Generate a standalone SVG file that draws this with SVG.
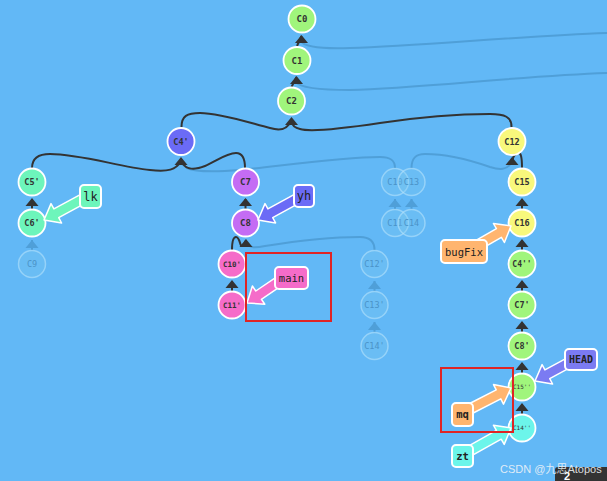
<svg xmlns="http://www.w3.org/2000/svg" xmlns:xlink="http://www.w3.org/1999/xlink" width="607" height="481" viewBox="0 0 607 481">
<defs>
<style>
.bg{fill:#62b8f6}
.ln{fill:none;stroke:#333;stroke-width:2}
.gl{fill:none;stroke:#4f9fd8;stroke-width:2}
.ah{fill:#333}
.gah{fill:#4f9fd8}
.nd{stroke:#fff;stroke-width:1.8}
.gn{fill:#7fcaf0;fill-opacity:0.3;stroke:#b5e2fb;stroke-opacity:0.6;stroke-width:1.5}
.nt{font-family:"DejaVu Sans Mono",monospace;font-weight:bold;font-size:8.5px;fill:#333;text-anchor:middle}
.gt{font-family:"DejaVu Sans Mono",monospace;font-size:8.5px;fill:#4a93c8;text-anchor:middle}
.g{fill:#a0f57c}.y{fill:#f8f87c}.p{fill:#c46cf4}.k{fill:#f56cc9}.m{fill:#6df5bb}.c{fill:#6cf5ea}.b{fill:#6b6bf6}.o{fill:#ffb56f}.h{fill:#7b7bf2}
.lb{stroke:#fff;stroke-width:2}
.la{stroke:#fff;stroke-width:1.5;stroke-linejoin:round}
.lt{font-family:"DejaVu Sans Mono",monospace;font-size:10.5px;fill:#222;text-anchor:middle}
.rb{fill:none;stroke:#e02424;stroke-width:2}
</style>
<path id="ahd" d="M0,0 L-6.5,8 L6.5,8 Z"/>
</defs>
<rect class="bg" x="0" y="0" width="607" height="481"/>

<g id="connectors">
  <!-- ghost connectors -->
  <path class="gl" d="M301,41 C304,47 320,49 350,48 C420,46 520,36 607,33"/>
  <path class="gl" d="M296,82 C300,88 320,90 350,90 C420,88 520,76 607,73"/>
  <path class="gl" d="M395,168 C395,160 390,157 380,157 C340,157 280,166 240,170 C215,172 195,172 187,168 C184,166 183,165 182,163"/>
  <path class="gl" d="M411.5,168 C411.5,159 415,154 425,154 C445,154 470,160 490,167 C500,170 507,170 511,163"/>
  <path class="gl" d="M374.5,250 C374.5,241 370,237 360,237 C330,237 290,242 265,246 C255,248 250,248 247,244"/>
  <path class="gl" d="M32,250 L32,240"/>
  <path class="gl" d="M395,209 L395,199"/>
  <path class="gl" d="M411.5,209 L411.5,199"/>
  <path class="gl" d="M374.5,291 L374.5,281"/>
  <path class="gl" d="M374.5,332 L374.5,322"/>
  <use href="#ahd" class="gah" x="32" y="240"/>
  <use href="#ahd" class="gah" x="395" y="199"/>
  <use href="#ahd" class="gah" x="411.5" y="199"/>
  <use href="#ahd" class="gah" x="374.5" y="281"/>
  <use href="#ahd" class="gah" x="374.5" y="322"/>

  <!-- solid connectors -->
  <path class="ln" d="M297,46 L301.5,36"/>
  <path class="ln" d="M291.5,87 L296.5,77"/>
  <path class="ln" d="M181.5,127 C181.5,116 187,113 200,113 C220,113 250,123 270,128 C280,131 287,130 291,121"/>
  <path class="ln" d="M511.5,127 C511.5,117 505,114 490,114 C460,114 420,117 380,123 C340,129 310,132 300,129 C295,128 292,125 291,121"/>
  <path class="ln" d="M32,168 C32,159 37,154 50,154 C80,154 120,167 150,170 C168,172 176,170 181,161"/>
  <path class="ln" d="M245,168 C245,158 242,153 236,153 C226,153 215,162 205,166 C195,170 186,171 181,161"/>
  <path class="ln" d="M232,250 C232,241 233,237 236,237 C240,237 240,247 242,246 C244,245 245,243 246,240"/>
  <path class="ln" d="M522,168 C522,158 521,152 518,153 C515,154 513,157 512.5,160"/>
  <path class="ln" d="M32,209 L32,199"/>
  <path class="ln" d="M245.5,209 L245.5,199"/>
  <path class="ln" d="M232,291 L232,281"/>
  <path class="ln" d="M522,209 L522,199"/>
  <path class="ln" d="M522,250 L522,240"/>
  <path class="ln" d="M522,291 L522,281"/>
  <path class="ln" d="M522,332 L522,322"/>
  <path class="ln" d="M522,373 L522,363"/>
  <path class="ln" d="M522,414 L522,404"/>
  <use href="#ahd" class="ah" x="301.5" y="35"/>
  <use href="#ahd" class="ah" x="296.5" y="76"/>
  <use href="#ahd" class="ah" x="291.5" y="117"/>
  <use href="#ahd" class="ah" x="181" y="157"/>
  <use href="#ahd" class="ah" x="512" y="157"/>
  <use href="#ahd" class="ah" x="32" y="198"/>
  <use href="#ahd" class="ah" x="245.5" y="198"/>
  <use href="#ahd" class="ah" x="246" y="239"/>
  <use href="#ahd" class="ah" x="232" y="280"/>
  <use href="#ahd" class="ah" x="522" y="198"/>
  <use href="#ahd" class="ah" x="522" y="239"/>
  <use href="#ahd" class="ah" x="522" y="280"/>
  <use href="#ahd" class="ah" x="522" y="321"/>
  <use href="#ahd" class="ah" x="522" y="362"/>
  <use href="#ahd" class="ah" x="522" y="403"/>
</g>

<!-- ghost nodes -->
<g id="C9"><circle class="gn" cx="32" cy="264" r="13.5"/><text class="gt" x="32" y="267">C9</text></g>
<g id="C10"><circle class="gn" cx="395" cy="182" r="13.5"/><text class="gt" x="395" y="185">C10</text></g>
<g id="C13"><circle class="gn" cx="411.5" cy="182" r="13.5"/><text class="gt" x="411.5" y="185">C13</text></g>
<g id="C11"><circle class="gn" cx="395" cy="223" r="13.5"/><text class="gt" x="395" y="226">C11</text></g>
<g id="C14"><circle class="gn" cx="411.5" cy="223" r="13.5"/><text class="gt" x="411.5" y="226">C14</text></g>
<g id="C12p"><circle class="gn" cx="374.5" cy="264" r="13.5"/><text class="gt" x="374.5" y="267">C12'</text></g>
<g id="C13p"><circle class="gn" cx="374.5" cy="305" r="13.5"/><text class="gt" x="374.5" y="308">C13'</text></g>
<g id="C14p"><circle class="gn" cx="374.5" cy="346" r="13.5"/><text class="gt" x="374.5" y="349">C14'</text></g>

<!-- nodes -->
<g id="C0"><circle class="nd g" cx="302" cy="19" r="13.5"/><text class="nt" x="302" y="22" style="font-size:9px">C0</text></g>
<g id="C1"><circle class="nd g" cx="297" cy="60.5" r="13.5"/><text class="nt" x="297" y="63.5" style="font-size:9px">C1</text></g>
<g id="C2"><circle class="nd g" cx="291.5" cy="101" r="13.5"/><text class="nt" x="291.5" y="104" style="font-size:9px">C2</text></g>
<g id="C4p"><circle class="nd b" cx="181" cy="141.5" r="13.5"/><text class="nt" x="181" y="144.5">C4'</text></g>
<g id="C12"><circle class="nd y" cx="512" cy="141.5" r="13.5"/><text class="nt" x="512" y="144.5">C12</text></g>
<g id="C5p"><circle class="nd m" cx="32" cy="182" r="13.5"/><text class="nt" x="32" y="185">C5'</text></g>
<g id="C6p"><circle class="nd m" cx="32" cy="223" r="13.5"/><text class="nt" x="32" y="226">C6'</text></g>
<g id="C7"><circle class="nd p" cx="245.5" cy="182" r="13.5"/><text class="nt" x="245.5" y="185" style="font-size:9px">C7</text></g>
<g id="C8"><circle class="nd p" cx="245.5" cy="223" r="13.5"/><text class="nt" x="245.5" y="226" style="font-size:9px">C8</text></g>
<g id="C10p"><circle class="nd k" cx="232" cy="264" r="13.5"/><text class="nt" x="232" y="266.5" style="font-size:7.5px">C10'</text></g>
<g id="C11p"><circle class="nd k" cx="232" cy="305" r="13.5"/><text class="nt" x="232" y="307.5" style="font-size:7.5px">C11'</text></g>
<g id="C15"><circle class="nd y" cx="522" cy="182" r="13.5"/><text class="nt" x="522" y="185">C15</text></g>
<g id="C16"><circle class="nd y" cx="522" cy="223" r="13.5"/><text class="nt" x="522" y="226">C16</text></g>
<g id="C4pp"><circle class="nd g" cx="522" cy="264" r="13.5"/><text class="nt" x="522" y="267" style="font-size:8px">C4''</text></g>
<g id="C7p"><circle class="nd g" cx="522" cy="305" r="13.5"/><text class="nt" x="522" y="308">C7'</text></g>
<g id="C8p"><circle class="nd g" cx="522" cy="346" r="13.5"/><text class="nt" x="522" y="349">C8'</text></g>
<g id="C15pp"><circle class="nd g" cx="522" cy="387" r="13.5"/><text class="nt" x="522" y="389" style="font-size:6px;font-weight:normal">C15''</text></g>
<g id="C14pp"><circle class="nd c" cx="522" cy="428" r="13.5"/><text class="nt" x="522" y="430" style="font-size:6px;font-weight:normal">C14''</text></g>

<!-- branch labels -->
<g id="lk">
  <polygon class="la m" points="92.4,199.4 58.7,217.7 61.6,223 44,220 51,203.6 53.9,208.9 87.6,190.6"/>
  <rect class="lb m" x="80" y="185" width="21" height="23" rx="4"/>
  <text class="lt" x="90.5" y="200.5" style="font-size:12px">lk</text>
</g>
<g id="yh">
  <polygon class="la b" points="302.4,201.4 272.7,217.7 275.6,222.9 258,220 265,203.6 267.9,208.9 297.6,192.6"/>
  <rect class="lb b" x="294" y="185" width="20" height="22" rx="4"/>
  <text class="lt" x="304" y="200" style="font-size:12px">yh</text>
</g>
<g id="main">
  <polygon class="la k" points="280.8,286.1 261.4,299.3 264.8,304.2 247,303 252.4,286 255.8,291 275.2,277.9"/>
  <rect class="lb k" x="275" y="267" width="33" height="22" rx="4"/>
  <text class="lt" x="291.5" y="282">main</text>
</g>
<g id="bugFix">
  <polygon class="la o" points="480.5,249.3 501.4,237.3 504.4,242.5 511,226 493.4,223.5 496.4,228.7 475.5,240.7"/>
  <rect class="lb o" x="441" y="240" width="46" height="23" rx="4"/>
  <text class="lt" x="464" y="255.5">bugFix</text>
</g>
<g id="HEAD">
  <polygon class="la h" points="572.4,366.4 549.7,378.7 552.6,384 535,381 542.1,364.6 544.9,369.9 567.6,357.6"/>
  <rect class="lb h" x="565" y="349" width="32" height="21" rx="4"/>
  <text class="lt" x="581" y="363" style="font-weight:bold;font-size:10px">HEAD</text>
</g>
<g id="mq">
  <polygon class="la o" points="470.3,414.5 500.8,398.8 503.5,404.2 511,388 493.5,384.6 496.2,389.9 465.7,405.5"/>
  <rect class="lb o" x="452" y="403" width="21" height="23" rx="4"/>
  <text class="lt" x="462.5" y="418" style="font-weight:bold">mq</text>
</g>
<g id="zt">
  <polygon class="la c" points="470.4,456.4 501.2,439.2 504.2,444.4 511,428 493.4,425.2 496.4,430.4 465.6,447.6"/>
  <rect class="lb c" x="452" y="445" width="21" height="22" rx="4"/>
  <text class="lt" x="462.5" y="460" style="font-weight:bold">zt</text>
</g>

<!-- highlight boxes -->
<rect class="rb" x="246" y="253" width="85" height="68"/>
<rect class="rb" x="441" y="368" width="72" height="64"/>

<!-- corner overlay and watermark -->
<rect x="555" y="467" width="60" height="22" rx="3" fill="#333"/>
<text x="564" y="480" font-family="Liberation Sans, sans-serif" font-weight="bold" font-size="11" fill="#fff">2</text>
<text x="500" y="473" font-family="Liberation Sans, Noto Sans CJK SC, sans-serif" font-size="11" fill="#eef2f6" fill-opacity="0.9">CSDN @九思Atopos</text>
</svg>
